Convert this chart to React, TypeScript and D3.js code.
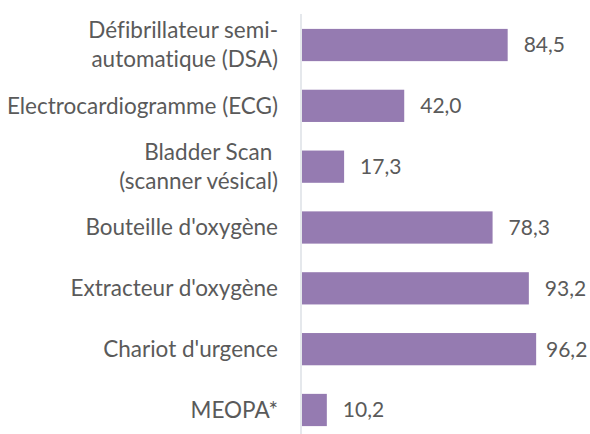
import React from 'react'
import { scaleBand, scaleLinear } from 'd3'

const categories = [
  'Défibrillateur semi-\nautomatique (DSA)',
  'Electrocardiogramme (ECG)',
  'Bladder Scan \n(scanner vésical)',
  "Bouteille d'oxygène",
  "Extracteur d'oxygène",
  "Chariot d'urgence",
  'MEOPA*',
]
const values = [84.5, 42.0, 17.3, 78.3, 93.2, 96.2, 10.2]
const valueLabels = ['84,5', '42,0', '17,3', '78,3', '93,2', '96,2', '10,2']

const width = 590
const height = 434
const font = 'Lato, "Open Sans", sans-serif'
const textColor = '#5a5a5a'

const App = () => {
  const x = scaleLinear().domain([0, 100]).range([302, 545.4])
  const y = scaleBand<string>()
    .domain(categories)
    .range([14.6, 440.4])
    .paddingInner(0.47)
    .paddingOuter(0.235)

  return (
    <svg
      width={width}
      height={height}
      style={{ position: 'absolute', left: 0, top: 0, background: '#fff', fontVariantLigatures: 'none' }}
      fontFamily={font}
    >
      <line x1={x(0) - 1} x2={x(0) - 1} y1={14} y2={height} stroke="#dde1e6" strokeWidth={1.5} />
      {categories.map((c, i) => {
        const cy = (y(c) ?? 0) + y.bandwidth() / 2
        const lines = c.split('\n')
        const lh = 29
        const barEnd = x(values[i])
        // excel nudges the label in when it would run off the right edge
        const lx = Math.min(barEnd + 16, 546)
        return (
          <g key={c}>
            <rect x={x(0)} y={y(c)} width={barEnd - x(0)} height={y.bandwidth()} fill="#957bb1" />
            <text
              textAnchor="end"
              fill={textColor}
              fontSize={22.5}
              style={{ whiteSpace: 'pre' }}
            >
              {lines.map((l, j) => (
                <tspan key={j} x={278} y={cy + (j - (lines.length - 1) / 2) * lh} dy="0.35em">
                  {l}
                </tspan>
              ))}
            </text>
            <text x={lx} y={cy} dy="0.35em" fill={textColor} fontSize={21}>
              {valueLabels[i]}
            </text>
          </g>
        )
      })}
    </svg>
  )
}

export default App
